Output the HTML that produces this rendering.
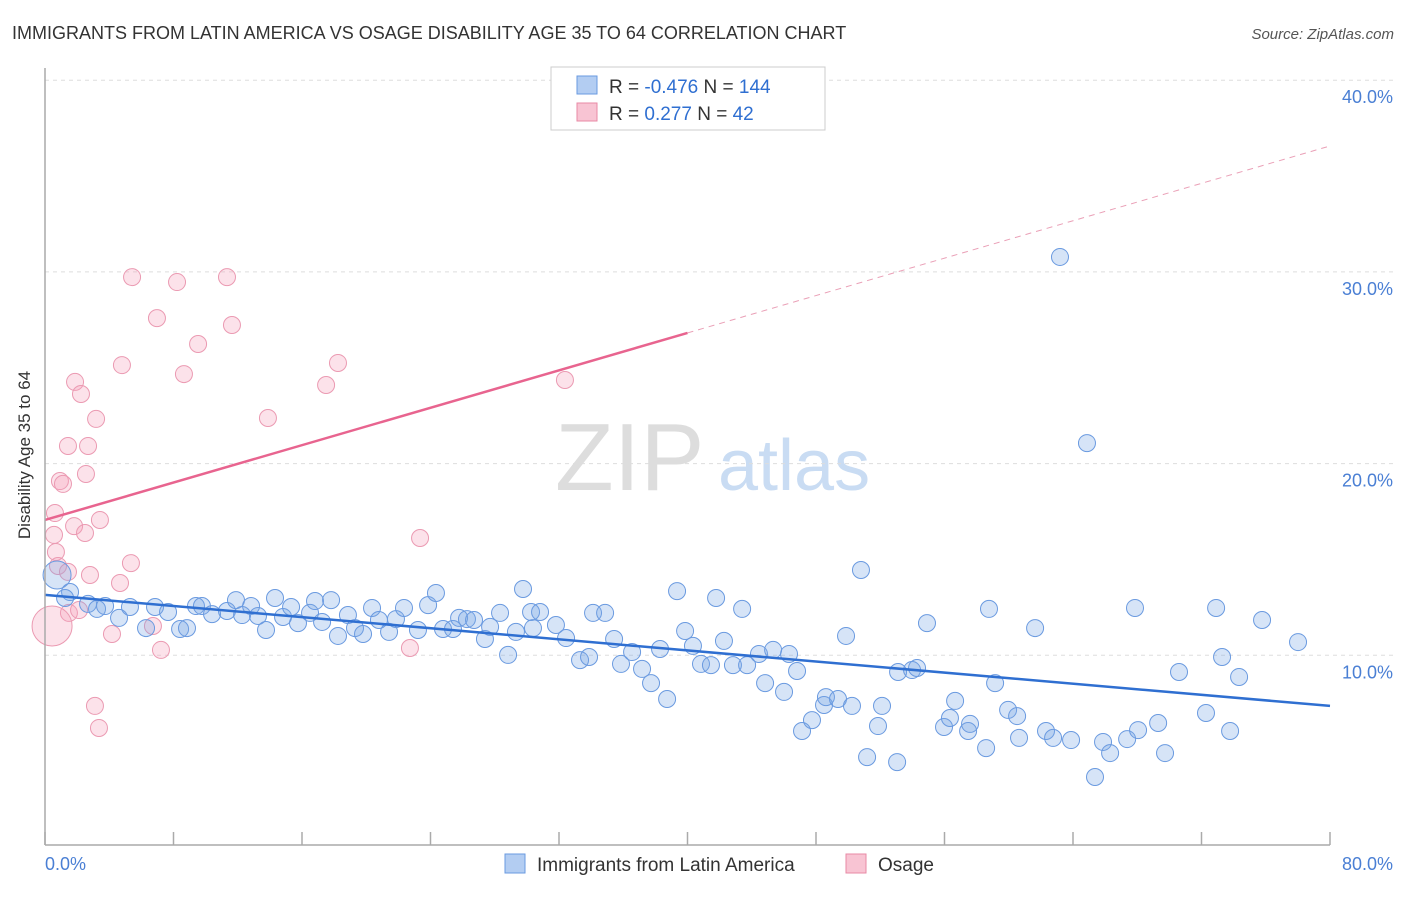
<!DOCTYPE html>
<html><head><meta charset="utf-8"><style>
body{margin:0;background:#fff;font-family:"Liberation Sans",sans-serif;}
svg text{font-family:"Liberation Sans",sans-serif;}
</style></head><body>
<svg id="c" width="1406" height="892" xmlns="http://www.w3.org/2000/svg">
<text x="12" y="39" font-size="18" fill="#333">IMMIGRANTS FROM LATIN AMERICA VS OSAGE DISABILITY AGE 35 TO 64 CORRELATION CHART</text>
<text x="1394" y="39" font-size="15" fill="#555" font-style="italic" text-anchor="end">Source: ZipAtlas.com</text>
<text x="555" y="490" font-size="96" fill="#ddd" font-family="Liberation Serif">ZIP</text>
<text x="718" y="490" font-size="72" fill="#c9dcf3">atlas</text>
<g id="grid"></g><g id="pts"></g><g id="lines"></g>
<line x1="45" y1="68" x2="45" y2="845" stroke="#aaa" stroke-width="1.5"/>
<line x1="45" y1="845" x2="1330" y2="845" stroke="#aaa" stroke-width="1.5"/>
<text x="30" y="455" font-size="17" fill="#333" text-anchor="middle" transform="rotate(-90 30 455)">Disability Age 35 to 64</text>
<text x="45" y="870" font-size="18" fill="#4a7fd4">0.0%</text>
<text x="1393" y="870" font-size="18" fill="#4a7fd4" text-anchor="end">80.0%</text>
<g>
<rect x="551" y="67" width="274" height="63" fill="#fff" stroke="#ccc"/>
<rect x="577" y="76" width="20" height="18" fill="#b3cdf2" stroke="#6a9ae0"/>
<rect x="577" y="103" width="20" height="18" fill="#f8c4d3" stroke="#e88aa6"/>
<text x="609" y="93" font-size="19" fill="#333">R = <tspan fill="#2f6fd1">-0.476</tspan>   N = <tspan fill="#2f6fd1">144</tspan></text>
<text x="609" y="120" font-size="19" fill="#333">R =  <tspan fill="#2f6fd1"> 0.277</tspan>   N =  <tspan fill="#2f6fd1"> 42</tspan></text>
</g>
<g>
<rect x="505" y="854" width="20" height="19" fill="#b3cdf2" stroke="#6a9ae0"/>
<text x="537" y="871" font-size="19" fill="#333">Immigrants from Latin America</text>
<rect x="846" y="854" width="20" height="19" fill="#f8c4d3" stroke="#e88aa6"/>
<text x="878" y="871" font-size="19" fill="#333">Osage</text>
</g>
</svg>
<script>
const yTicks=[10,20,30,40];
const xTickVals=[0,8,16,24,32,40,48,56,64,72,80];
const pinkX=[5.42,8.22,11.33,6.97,9.53,11.64,4.79,8.65,1.87,2.24,3.18,18.24,17.50,13.88,1.43,2.68,0.93,1.12,2.55,0.62,1.81,2.49,3.42,0.56,0.68,0.81,1.43,5.35,4.67,2.80,1.49,2.12,4.17,6.72,7.22,22.72,23.35,32.37,3.11,3.36,0.44];
const pinkY=[29.73,29.47,29.73,27.59,26.24,27.23,25.14,24.67,24.26,23.63,22.33,25.25,24.10,22.38,20.92,20.92,19.09,18.94,19.46,17.42,16.74,16.38,17.06,16.28,15.39,14.66,14.35,14.81,13.77,14.19,12.21,12.36,11.11,11.53,10.28,10.38,16.12,24.36,7.36,6.21,11.53];
const blueX=[0.75,1.56,1.25,2.68,3.24,3.74,4.61,5.29,6.29,6.85,7.66,8.41,8.84,9.40,9.77,10.40,11.33,11.89,12.27,12.83,13.26,13.76,14.32,14.82,15.32,15.75,16.50,16.81,17.25,17.81,18.24,18.86,19.30,19.80,20.36,20.79,21.42,21.85,22.35,23.22,23.85,24.34,24.78,25.40,25.78,26.27,26.71,27.39,27.71,28.33,28.83,29.32,30.26,29.76,30.82,31.81,30.38,32.44,33.31,33.87,34.12,34.87,35.43,35.86,36.55,37.17,37.73,38.29,38.73,39.35,39.85,40.34,40.84,41.46,41.78,42.27,42.83,43.40,43.71,44.45,44.83,45.33,46.01,46.32,46.82,47.13,47.75,48.50,48.62,49.37,49.87,50.24,50.80,51.18,51.86,52.11,53.05,53.11,53.98,54.29,54.91,55.97,56.34,56.66,57.47,57.59,58.59,58.77,59.15,59.96,60.52,60.64,61.64,62.32,62.76,63.19,63.88,64.87,65.37,65.87,66.31,67.37,67.86,68.05,69.30,69.73,70.60,72.28,72.91,73.28,73.78,74.34,75.77,78.01];
const blueY=[14.19,13.30,12.99,12.68,12.42,12.57,11.95,12.52,11.42,12.52,12.26,11.37,11.42,12.57,12.57,12.15,12.31,12.88,12.10,12.57,12.05,11.32,12.99,12.00,12.52,11.68,12.21,12.83,11.74,12.88,11.01,12.10,11.42,11.11,12.47,11.84,11.22,11.89,12.47,11.32,12.62,13.25,11.37,11.37,11.95,11.89,11.84,10.85,11.48,12.21,10.02,11.22,12.26,13.46,12.26,11.58,11.42,10.90,9.75,9.91,12.21,12.21,10.85,9.55,10.17,9.29,8.55,10.33,7.72,13.35,11.27,10.49,9.55,9.49,12.99,10.75,9.49,12.42,9.49,10.07,8.55,10.28,8.09,10.07,9.18,6.05,6.62,7.41,7.82,7.72,11.01,7.36,14.45,4.69,6.31,7.36,4.43,9.13,9.23,9.34,11.68,6.26,6.73,7.62,6.05,6.42,5.16,12.42,8.55,7.15,6.83,5.69,11.42,6.05,5.69,30.78,5.58,21.07,3.65,5.48,4.90,5.63,12.47,6.10,6.47,4.90,9.13,6.99,12.47,9.91,6.05,8.87,11.84,10.69];
const blueTrend=[13.15,7.36];
const pinkTrend=[17.06,36.57];
const pinkSolidEnd=40.0;
const NS='http://www.w3.org/2000/svg';
const sx=v=>45+v/80*1285;
const sy=v=>847-v*19.17;
function mk(tag,attrs,parent){const e=document.createElementNS(NS,tag);for(const k in attrs)e.setAttribute(k,attrs[k]);parent.appendChild(e);return e;}
const grid=document.getElementById('grid'),pts=document.getElementById('pts'),lines=document.getElementById('lines');
yTicks.forEach(t=>{
 const l=mk('line',{x1:45,x2:1393,y1:sy(t),y2:sy(t),stroke:'#ddd','stroke-dasharray':'4 4'},grid);
 
 
 const tx=mk('text',{x:1393,y:sy(t)+23,'font-size':18,fill:'#4a7fd4','text-anchor':'end'},grid);
 tx.textContent=t.toFixed(1)+'%';
 
 
});
xTickVals.forEach(t=>{
 const l=mk('line',{x1:sx(t),x2:sx(t),y1:832,y2:845,stroke:'#aaa','stroke-width':1.5},grid);
 
 
});
pinkX.forEach((x,i)=>{
 const big=i===pinkX.length-1;
 const c=mk('circle',{cx:sx(x),cy:sy(pinkY[i]),r:big?20:8.5,fill:'rgba(244,160,185,0.3)',stroke:'#eb9ab2','stroke-width':1},pts);
 
 
});
blueX.forEach((x,i)=>{
 const c=mk('circle',{cx:sx(x),cy:sy(blueY[i]),r:i===0?14:8.5,fill:'rgba(120,165,230,0.3)',stroke:'#6a9ae0','stroke-width':1},pts);
 
 
});
const bl=mk('line',{x1:sx(0),y1:sy(blueTrend[0]),x2:sx(80),y2:sy(blueTrend[1]),stroke:'#2f6fd1','stroke-width':2.5},lines);


const pm=pinkTrend[0]+(pinkTrend[1]-pinkTrend[0])*pinkSolidEnd/80;
const pl=mk('line',{x1:sx(0),y1:sy(pinkTrend[0]),x2:sx(pinkSolidEnd),y2:sy(pm),stroke:'#e8648f','stroke-width':2.5},lines);


const pd=mk('line',{x1:sx(pinkSolidEnd),y1:sy(pm),x2:sx(80),y2:sy(pinkTrend[1]),stroke:'#eaa0b7','stroke-width':1,'stroke-dasharray':'6 5'},lines);


</script>
</body></html>
